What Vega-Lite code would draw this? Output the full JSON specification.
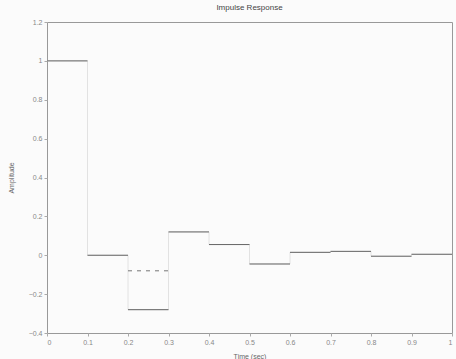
{
  "$schema": "https://vega.github.io/schema/vega-lite/v6.json",
  "width": 405,
  "height": 311,
  "autosize": "none",
  "padding": {"left": 47, "top": 22, "right": 4, "bottom": 26},
  "background": "#fbfbfb",
  "title": {"text": "Impulse Response", "fontSize": 8, "font": "Liberation Sans", "fontWeight": "normal", "color": "#444", "offset": 6},
  "config": {
    "view": {"stroke": "#999", "strokeWidth": 1},
    "axis": {"grid": false, "labelFont": "Liberation Sans", "titleFont": "Liberation Sans", "labelFontSize": 7, "titleFontSize": 7, "titleFontWeight": "normal", "labelColor": "#888", "titleColor": "#666", "domain": false, "tickColor": "#aaa", "tickSize": 3, "format": "~g"}
  },
  "data": {"values": [
    {"series": "main", "t": 0.0, "t_end": 0.1, "amp": 1.0},
    {"series": "main", "t": 0.1, "t_end": 0.2, "amp": 0.0},
    {"series": "main", "t": 0.2, "t_end": 0.3, "amp": -0.28},
    {"series": "main", "t": 0.3, "t_end": 0.4, "amp": 0.12},
    {"series": "main", "t": 0.4, "t_end": 0.5, "amp": 0.055},
    {"series": "main", "t": 0.5, "t_end": 0.6, "amp": -0.045},
    {"series": "main", "t": 0.6, "t_end": 0.7, "amp": 0.015},
    {"series": "main", "t": 0.7, "t_end": 0.8, "amp": 0.02},
    {"series": "main", "t": 0.8, "t_end": 0.9, "amp": -0.005},
    {"series": "main", "t": 0.9, "t_end": 1.0, "amp": 0.005},
    {"series": "main", "t": 1.0, "t_end": 1.0, "amp": 0.005},
    {"series": "dashed", "t": 0.2, "t_end": 0.3, "amp": -0.08}
  ]},
  "encoding": {
    "x": {"field": "t", "type": "quantitative", "scale": {"domain": [0, 1], "nice": false}, "axis": {"values": [0, 0.1, 0.2, 0.3, 0.4, 0.5, 0.6, 0.7, 0.8, 0.9, 1], "title": "Time (sec)", "titleY": 19, "labelPadding": 2}},
    "y": {"field": "amp", "type": "quantitative", "scale": {"domain": [-0.4, 1.2], "nice": false}, "axis": {"values": [-0.4, -0.2, 0, 0.2, 0.4, 0.6, 0.8, 1, 1.2], "title": "Amplitude", "titlePadding": 14, "labelPadding": 2}}
  },
  "layer": [
    {
      "transform": [{"filter": "datum.series === 'main'"}],
      "mark": {"type": "line", "interpolate": "step-after", "color": "#e2e2e2", "strokeWidth": 1}
    },
    {
      "transform": [{"filter": "datum.series === 'main'"}],
      "mark": {"type": "rule", "color": "#666", "strokeWidth": 1},
      "encoding": {"x2": {"field": "t_end"}}
    },
    {
      "transform": [{"filter": "datum.series === 'dashed'"}],
      "mark": {"type": "rule", "color": "#777", "strokeWidth": 1, "strokeDash": [4, 5]},
      "encoding": {"x2": {"field": "t_end"}}
    }
  ]
}
